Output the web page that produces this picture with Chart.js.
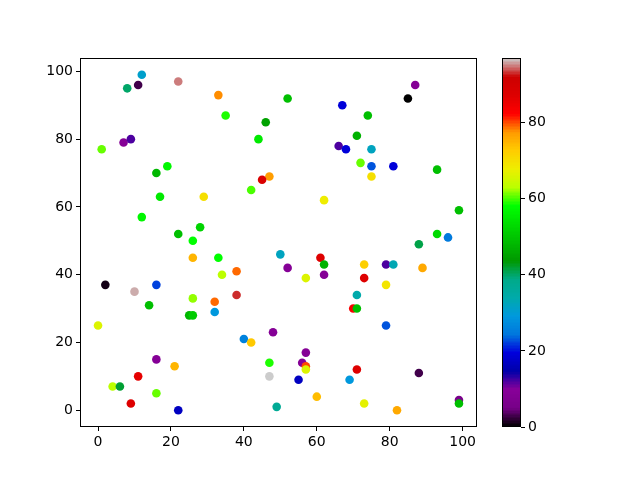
<!DOCTYPE html>
<html>
<head>
<meta charset="utf-8">
<script src="https://cdn.jsdelivr.net/npm/chart.js@4.4.1/dist/chart.umd.min.js"></script>
<style>
  body { margin: 0; background: #fff; }
  .wrap { position: relative; width: 640px; height: 480px; }
  .wrap canvas { position: absolute; left: 0; top: 0; }
</style>
</head>
<body>
<div class="wrap">
  <canvas id="main" width="640" height="480"></canvas>
  <canvas id="cbar" width="640" height="480"></canvas>
</div>
<script>
// scatter data
const xs = [12, 22, 8, 11, 33, 35, 52, 46, 44, 1, 7, 9, 16, 19, 17, 29, 12, 22, 28, 26,
            42, 47, 45, 62, 67, 66, 68, 71, 74, 75, 72, 75, 81, 75, 87, 85, 93, 99, 93, 96,
            88, 26, 33, 34, 38, 38, 2, 10, 16, 26, 32, 32, 14, 25, 26, 0, 50, 52, 57, 61,
            62, 62, 73, 79, 81, 89, 73, 79, 71, 70, 71, 79, 40, 42, 48, 16, 21, 11, 4, 6,
            16, 9, 22, 57, 56, 57, 57, 47, 47, 55, 49, 60, 69, 71, 88, 73, 82, 99, 99];
const ys = [99, 97, 95, 96, 93, 87, 92, 85, 80, 77, 79, 80, 70, 72, 63, 63, 57, 52, 54, 50,
            65, 69, 68, 62, 90, 78, 77, 81, 87, 77, 73, 72, 72, 69, 96, 92, 71, 59, 52, 51,
            49, 45, 45, 40, 41, 34, 37, 35, 37, 33, 32, 29, 31, 28, 28, 25, 46, 42, 39, 45,
            43, 40, 43, 43, 43, 42, 39, 37, 34, 30, 30, 25, 21, 20, 23, 15, 13, 10, 7, 7,
            5, 2, 0, 17, 14, 13, 12, 14, 10, 9, 1, 4, 9, 12, 11, 2, 0, 3, 2];
const cs = [31, 95, 40, 3, 78, 59, 49, 45, 55, 61, 9, 12, 48, 57, 55, 70, 57, 49, 52, 58,
            60, 77, 88, 68, 19, 12, 19, 47, 49, 32, 61, 23, 19, 70, 9, 0, 49, 49, 53, 25,
            41, 75, 58, 63, 79, 93, 1, 96, 22, 62, 79, 29, 49, 48, 51, 66, 32, 9, 66, 87,
            47, 9, 72, 12, 33, 76, 87, 69, 34, 83, 49, 23, 26, 73, 9, 9, 75, 86, 63, 42,
            61, 87, 17, 9, 9, 80, 66, 59, 97, 17, 37, 74, 29, 87, 3, 67, 76, 6, 49];

const xTicks = [0, 20, 40, 60, 80, 100];
const yTicks = [0, 20, 40, 60, 80, 100];
const cTicks = [0, 20, 40, 60, 80];

// nipy_spectral segment data (matplotlib)
const cmapPos = [0, .05, .10, .15, .20, .25, .30, .35, .40, .45, .50, .55, .60, .65, .70, .75, .80, .85, .90, .95, 1];
const cmapR = [0, .4667, .5333, 0, 0, 0, 0, 0, 0, 0, 0, 0, 0, .7333, .9333, 1, 1, 1, .8667, .8, .8];
const cmapG = [0, 0, 0, 0, 0, .4667, .6, .6667, .6667, .6, .7333, .8667, 1, 1, .9333, .8, .6, 0, 0, 0, .8];
const cmapB = [0, .5333, .6, .6667, .8667, .8667, .8667, .6667, .5333, 0, 0, 0, 0, 0, 0, 0, 0, 0, 0, 0, .8];

function cmap(t) {
    // quantise to 256 entries like a matplotlib colormap
    let idx = Math.min(255, Math.max(0, Math.floor(t * 256)));
    const v = idx / 255;
    let i = 0;
    while (i < cmapPos.length - 2 && v > cmapPos[i + 1]) i++;
    const f = (v - cmapPos[i]) / (cmapPos[i + 1] - cmapPos[i]);
    const ch = arr => Math.round(255 * (arr[i] + (arr[i + 1] - arr[i]) * f));
    return `rgb(${ch(cmapR)},${ch(cmapG)},${ch(cmapB)})`;
}

const cMin = Math.min(...cs);
const cMax = Math.max(...cs);
const norm = v => (v - cMin) / (cMax - cMin);

Chart.defaults.color = '#000';
Chart.defaults.font.family = '"DejaVu Sans", sans-serif';
Chart.defaults.font.size = 14;

// draws the full black frame around the plot area
const frame = {
    id: 'frame',
    afterDraw(chart) {
        const a = chart.chartArea;
        const ctx = chart.ctx;
        ctx.save();
        ctx.strokeStyle = '#000';
        ctx.lineWidth = 1;
        ctx.strokeRect(Math.round(a.left) + 0.5, Math.round(a.top) + 0.5,
                       Math.round(a.right - a.left) - 1, Math.round(a.bottom - a.top) - 1);
        ctx.restore();
    }
};

const tickGrid = { display: true, drawOnChartArea: false, drawTicks: true, tickLength: 4, tickColor: '#000' };

new Chart(document.getElementById('main'), {
    type: 'scatter',
    data: {
        datasets: [{
            data: xs.map((x, i) => ({ x: x, y: ys[i] })),
            pointBackgroundColor: cs.map(c => cmap(norm(c))),
            pointBorderWidth: 0,
            pointRadius: 4.3,
            pointHoverRadius: 4.3
        }]
    },
    options: {
        responsive: false,
        animation: false,
        devicePixelRatio: 1,
        layout: { padding: { left: 40, right: 163, top: 58, bottom: 23 } },
        plugins: { legend: { display: false }, tooltip: { enabled: false } },
        scales: {
            x: {
                type: 'linear',
                min: -4.95,
                max: 103.95,
                afterBuildTicks: s => { s.ticks = xTicks.map(v => ({ value: v })); },
                afterFit: s => { s.height = 30; },
                grid: tickGrid,
                border: { display: false },
                ticks: { padding: 3, maxRotation: 0 }
            },
            y: {
                type: 'linear',
                min: -4.95,
                max: 103.95,
                afterBuildTicks: s => { s.ticks = yTicks.map(v => ({ value: v })); },
                afterFit: s => { s.width = 40; },
                grid: tickGrid,
                border: { display: false },
                ticks: { padding: 3 }
            }
        }
    },
    plugins: [frame]
});

// colorbar: one floating bar filled with the colormap
new Chart(document.getElementById('cbar'), {
    type: 'bar',
    data: {
        labels: [''],
        datasets: [{
            data: [[cMin, cMax]],
            borderWidth: 0,
            barPercentage: 1,
            categoryPercentage: 1,
            backgroundColor: ctx => {
                const area = ctx.chart.chartArea;
                if (!area) return '#000';
                const g = ctx.chart.ctx.createLinearGradient(0, area.bottom, 0, area.top);
                for (let k = 0; k < 256; k++) {
                    const col = cmap((k + 0.5) / 256);
                    g.addColorStop(k / 256, col);
                    g.addColorStop((k + 1) / 256, col);
                }
                return g;
            }
        }]
    },
    options: {
        responsive: false,
        animation: false,
        devicePixelRatio: 1,
        layout: { padding: { left: 502, right: 79, top: 58, bottom: 53 } },
        plugins: { legend: { display: false }, tooltip: { enabled: false } },
        scales: {
            x: { display: false },
            y: {
                position: 'right',
                min: cMin,
                max: cMax,
                afterBuildTicks: s => { s.ticks = cTicks.map(v => ({ value: v })); },
                afterFit: s => { s.width = 40; },
                grid: tickGrid,
                border: { display: false },
                ticks: { padding: 3 }
            }
        }
    },
    plugins: [frame]
});
</script>
</body>
</html>
